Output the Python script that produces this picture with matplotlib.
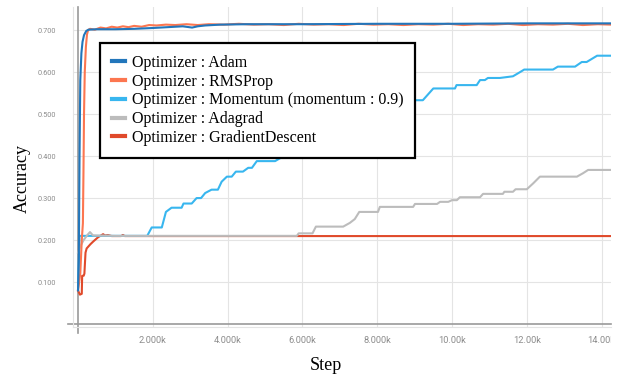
import matplotlib
matplotlib.use("Agg")
import matplotlib.pyplot as plt
from matplotlib.transforms import Bbox, TransformedBbox

# ---- data: training accuracy per optimizer ----
adam_steps = [0, 20, 40, 60, 90, 120, 160, 220, 280, 500, 1000, 1500, 2000, 2400,
              2800, 3050, 3200, 3400, 3800, 4500, 6000, 8000, 10000, 12000, 14250]
adam_acc = [0.08, 0.15, 0.40, 0.58, 0.645, 0.672, 0.688, 0.698, 0.701, 0.702, 0.702,
            0.703, 0.705, 0.707, 0.709, 0.706, 0.709, 0.711, 0.713, 0.714, 0.714,
            0.715, 0.715, 0.716, 0.716]

rmsprop_steps = [0, 60, 100, 130, 145, 160, 180, 210, 240, 270, 320, 450, 600, 750,
                 900, 1050, 1200, 1350, 1500, 1700, 1900, 2100, 2350, 2600, 2900,
                 3200, 3500, 3900, 4300, 4700, 5100, 5500, 5900, 6300, 6700, 7100,
                 7500, 7900, 8300, 8700, 9100, 9500, 9900, 10300, 10700, 11100,
                 11500, 11900, 12300, 12700, 13100, 13500, 13900, 14250]
rmsprop_acc = [0.08, 0.12, 0.20, 0.24, 0.36, 0.50, 0.60, 0.66, 0.69, 0.700, 0.703,
               0.701, 0.706, 0.704, 0.708, 0.706, 0.709, 0.707, 0.710, 0.708, 0.712,
               0.711, 0.713, 0.712, 0.714, 0.712, 0.714, 0.713, 0.715, 0.713, 0.714,
               0.712, 0.715, 0.713, 0.714, 0.712, 0.715, 0.713, 0.714, 0.712, 0.714,
               0.713, 0.715, 0.712, 0.714, 0.713, 0.715, 0.712, 0.714, 0.713, 0.715,
               0.712, 0.714, 0.713]

momentum_steps = [0, 40, 400, 1000, 1850, 1970, 2240, 2350, 2500, 2770, 2820, 3040,
                  3170, 3290, 3400, 3570, 3740, 3840, 3980, 4110, 4220, 4410, 4550,
                  4650, 4780, 5270, 5500, 6000, 6500, 7000, 7500, 8000, 8500, 8920,
                  9220, 9500, 10080, 10120, 10660, 10750, 10880, 10960, 11280, 11630,
                  11820, 11930, 12700, 12830, 13290, 13470, 13600, 13880, 14250]
momentum_acc = [0.09, 0.21, 0.21, 0.21, 0.21, 0.23, 0.23, 0.267, 0.277, 0.277, 0.287,
                0.287, 0.30, 0.30, 0.312, 0.32, 0.32, 0.339, 0.351, 0.351, 0.363,
                0.363, 0.372, 0.372, 0.388, 0.388, 0.40, 0.42, 0.44, 0.46, 0.48,
                0.50, 0.52, 0.533, 0.533, 0.561, 0.561, 0.569, 0.569, 0.581, 0.581,
                0.586, 0.586, 0.590, 0.600, 0.606, 0.606, 0.613, 0.613, 0.624, 0.624,
                0.639, 0.639]

adagrad_steps = [0, 60, 150, 250, 320, 400, 1000, 3000, 5850, 5900, 6270, 6360,
                 7090, 7270, 7400, 7520, 8020, 8070, 8960, 9010, 9600, 9680, 9900,
                 10000, 10130, 10210, 10750, 10830, 11360, 11400, 11630, 11700,
                 12000, 12170, 12350, 13340, 13500, 13640, 14250]
adagrad_acc = [0.17, 0.185, 0.200, 0.212, 0.219, 0.211, 0.210, 0.210, 0.210, 0.216,
               0.216, 0.232, 0.232, 0.241, 0.250, 0.267, 0.267, 0.279, 0.279, 0.286,
               0.286, 0.291, 0.291, 0.295, 0.295, 0.302, 0.302, 0.310, 0.310, 0.315,
               0.315, 0.321, 0.321, 0.335, 0.351, 0.351, 0.359, 0.367, 0.367]

gd_steps = [0, 50, 100, 110, 150, 170, 200, 230, 260, 330, 400, 450, 540, 670, 720,
            800, 900, 1150, 1200, 1250, 14250]
gd_acc = [0.08, 0.07, 0.072, 0.115, 0.115, 0.12, 0.17, 0.18, 0.183, 0.19, 0.196,
          0.20, 0.207, 0.214, 0.211, 0.212, 0.2095, 0.2095, 0.212, 0.2095, 0.2095]

series = [
    ("Optimizer : Adam", adam_steps, adam_acc, "#2276bb", 6),
    ("Optimizer : RMSProp", rmsprop_steps, rmsprop_acc, "#fc7650", 5),
    ("Optimizer : Momentum (momentum : 0.9)", momentum_steps, momentum_acc, "#38b6ef", 3),
    ("Optimizer : Adagrad", adagrad_steps, adagrad_acc, "#bcbcbc", 4),
    ("Optimizer : GradientDescent", gd_steps, gd_acc, "#e04a2b", 2),
]

x_ticks = [2000, 4000, 6000, 8000, 10000, 12000, 14000]
x_tick_labels = ["2.000k", "4.000k", "6.000k", "8.000k", "10.00k", "12.00k", "14.00k"]
y_ticks = [0.1, 0.2, 0.3, 0.4, 0.5, 0.6, 0.7]
y_tick_labels = ["0.100", "0.200", "0.300", "0.400", "0.500", "0.600", "0.700"]

# ---- figure ----
fig = plt.figure(figsize=(6.22, 3.74), dpi=100)
ax = fig.add_axes([0.1174, 0.1257, 0.8649, 0.8556])

for label, xs, ys, color, z in series:
    ax.plot(xs, ys, color=color, lw=1.5, label=label, zorder=z,
            solid_joinstyle="round")

ax.set_xlim(-134, 14251)
ax.set_ylim(-0.007, 0.755)

ax.set_xticks(x_ticks)
ax.set_xticklabels(x_tick_labels)
ax.set_yticks(y_ticks)
ax.set_yticklabels(y_tick_labels)

ax.grid(True, color="#e4e4e4", lw=0.8, zorder=0)
ax.set_axisbelow(True)

# zero lines for the axes
ax.axhline(0, xmin=-0.01, color="#9a9a9a", lw=1.2, clip_on=False, zorder=1)
ax.axvline(0, ymin=-0.02, color="#9a9a9a", lw=1.2, clip_on=False, zorder=1)

for side in ("top", "right"):
    ax.spines[side].set_visible(False)
for side in ("left", "bottom"):
    ax.spines[side].set_color("#e4e4e4")
    ax.spines[side].set_linewidth(0.8)

ax.tick_params(axis="both", length=0)
ax.tick_params(axis="y", pad=12, labelsize=5.3, labelcolor="#8c8c8c")
ax.tick_params(axis="x", pad=6.5, labelsize=6.7, labelcolor="#8c8c8c")
for t in ax.get_xticklabels() + ax.get_yticklabels():
    t.set_fontfamily("Roboto")

# tick labels are cut at the right edge of the plotting area
clip = TransformedBbox(Bbox([[0, 0], [0.9823, 1]]), fig.transFigure)
for t in ax.get_xticklabels():
    t.set_clip_box(clip)
    t.set_clip_on(True)

ax.set_xlabel("Step", fontfamily="Liberation Serif", fontsize=13)
ax.set_ylabel("Accuracy", fontfamily="Liberation Serif", fontsize=13)
ax.xaxis.set_label_coords(0.470, -0.095)
ax.yaxis.set_label_coords(-0.079, 0.465)

handles, labels = ax.get_legend_handles_labels()
leg = ax.legend(handles, labels, loc="upper left", bbox_to_anchor=(0.050, 0.8875),
                borderaxespad=0, frameon=True, fancybox=False,
                prop={"family": "Liberation Serif", "size": 11.5},
                handlelength=0.8, handletextpad=0.45, labelspacing=0.17,
                borderpad=0.75)
leg.get_frame().set_edgecolor("black")
leg.get_frame().set_linewidth(1.6)
leg.get_frame().set_alpha(1)
leg.set_zorder(10)
for h in leg.get_lines():
    h.set_linewidth(3)

fig.savefig("out.png", dpi=100)
